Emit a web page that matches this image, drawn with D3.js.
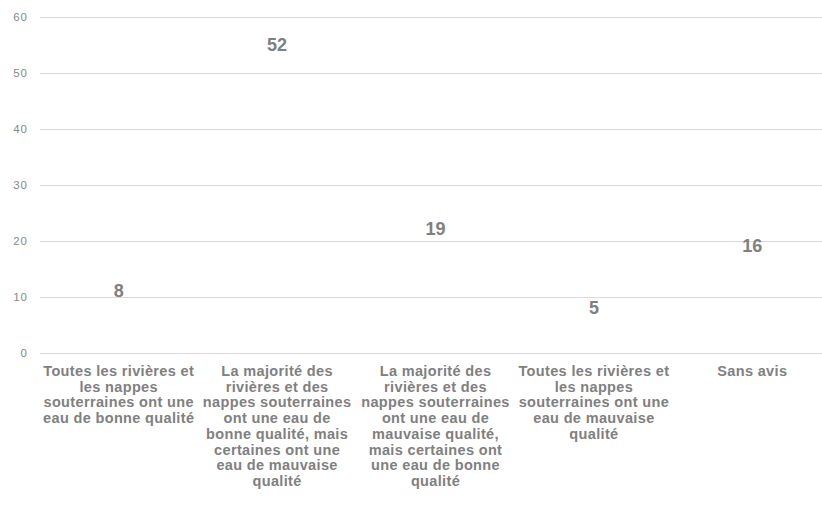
<!DOCTYPE html>
<html>
<head>
<meta charset="utf-8">
<script src="https://cdn.jsdelivr.net/npm/d3@7"></script>
<style>
  body { margin: 0; background: #fff; }
  text { font-family: "Liberation Sans", Arial, sans-serif; }
</style>
</head>
<body>
<script>
'use strict';

// category labels, with the line breaks used in the picture
const categories = [
    "Toutes les rivières et\nles nappes\nsouterraines ont une\neau de bonne qualité",
    "La majorité des\nrivières et des\nnappes souterraines\nont une eau de\nbonne qualité, mais\ncertaines ont une\neau de mauvaise\nqualité",
    "La majorité des\nrivières et des\nnappes souterraines\nont une eau de\nmauvaise qualité,\nmais certaines ont\nune eau de bonne\nqualité",
    "Toutes les rivières et\nles nappes\nsouterraines ont une\neau de mauvaise\nqualité",
    "Sans avis"
];

const values = [8, 52, 19, 5, 16];

const yTicks = [0, 10, 20, 30, 40, 50, 60];

(function () {
    const width = 822, height = 506;
    const svg = d3.select('body').append('svg')
        .attr('width', width)
        .attr('height', height);

    // scales
    const x = d3.scaleBand()
        .domain(d3.range(categories.length))
        .range([39.5, 831.5]);

    const y = d3.scaleLinear()
        .domain([0, 60])
        .range([352.7, 16.7]);

    // gridlines
    svg.append('g')
        .selectAll('line')
        .data(yTicks)
        .enter()
        .append('line')
        .attr('x1', 40)
        .attr('x2', width)
        .attr('y1', d => Math.round(y(d)) + 0.5)
        .attr('y2', d => Math.round(y(d)) + 0.5)
        .attr('stroke', '#d9d9d9')
        .attr('stroke-width', 1);

    // y axis labels
    const yAxis = d3.axisLeft(y).tickValues(yTicks).tickSize(0).tickPadding(0);
    const yg = svg.append('g')
        .attr('transform', 'translate(28,0)')
        .call(yAxis);
    yg.select('.domain').remove();
    yg.selectAll('text')
        .style('font-family', '"Liberation Sans", Arial, sans-serif')
        .style('font-size', '11.5px')
        .style('letter-spacing', '1px')
        .attr('fill', '#888');

    // data labels (bars are not visible in the picture)
    svg.append('g')
        .selectAll('text')
        .data(values)
        .enter()
        .append('text')
        .attr('x', (d, i) => x(i) + x.bandwidth() / 2)
        .attr('y', d => y(d) - 11)
        .attr('text-anchor', 'middle')
        .style('font-size', '18px')
        .style('font-weight', 'bold')
        .attr('fill', '#7f7f7f')
        .text(d => d);

    // category labels
    const xg = svg.append('g');
    categories.forEach((c, i) => {
        const cx = x(i) + x.bandwidth() / 2;
        const t = xg.append('text')
            .attr('x', cx)
            .attr('y', 376)
            .attr('text-anchor', 'middle')
            .style('font-size', '14.5px')
            .style('letter-spacing', '0.35px')
            .style('font-weight', 'bold')
            .attr('fill', '#808080');
        c.split('\n').forEach((line, k) => {
            t.append('tspan')
                .attr('x', cx)
                .attr('dy', k === 0 ? 0 : 15.7)
                .text(line);
        });
    });
})();
</script>
</body>
</html>
